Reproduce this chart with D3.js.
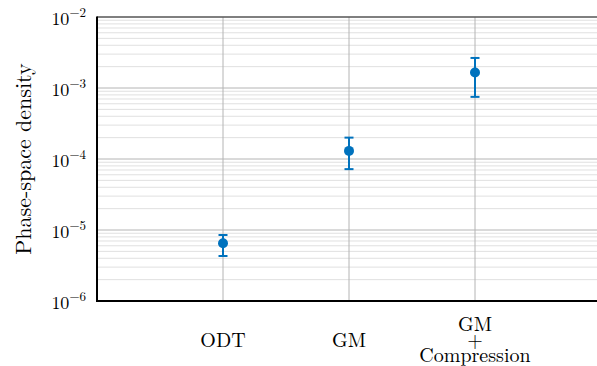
<!DOCTYPE html>
<html>
<head>
<meta charset="utf-8">
<script src="https://cdn.jsdelivr.net/npm/d3@7"></script>
<style>
  body { margin: 0; background: #fff; }
</style>
</head>
<body>
<svg id="chart" width="597" height="366" style="font-family: 'Latin Modern Roman', 'Liberation Serif', serif;"></svg>
<script>
// data
var categories = ["ODT", "GM", "GM\n+\nCompression"];
var density = [6.5e-6, 1.3e-4, 1.65e-3];
var errLow = [4.3e-6, 7.2e-5, 7.5e-4];
var errHigh = [8.5e-6, 2.0e-4, 2.65e-3];
var yTicks = [1e-6, 1e-5, 1e-4, 1e-3, 1e-2];

var svg = d3.select("#chart");
var mLeft = 97, mTop = 17, mBottom = 301, mRight = 601;
var font = "'Latin Modern Roman', 'Liberation Serif', serif";

var x = d3.scaleLinear().domain([0, 4]).range([mLeft, mRight]);
var y = d3.scaleLog().domain([1e-6, 1e-2]).range([mBottom, mTop]);

// minor grid
var minor = [];
yTicks.slice(0, -1).forEach(function(d){
    for (var k = 2; k <= 9; k++) minor.push(d * k);
});
svg.append("g").selectAll("line").data(minor).join("line")
    .attr("x1", mLeft).attr("x2", mRight)
    .attr("y1", function(d){ return y(d); })
    .attr("y2", function(d){ return y(d); })
    .attr("stroke", "#e0e0e0").attr("stroke-width", 1);

// major grid
svg.append("g").selectAll("line").data(yTicks).join("line")
    .attr("x1", mLeft).attr("x2", mRight)
    .attr("y1", function(d){ return y(d); })
    .attr("y2", function(d){ return y(d); })
    .attr("stroke", "#b4b4b4").attr("stroke-width", 1);

svg.append("g").selectAll("line").data(categories).join("line")
    .attr("x1", function(d, i){ return x(i + 1); })
    .attr("x2", function(d, i){ return x(i + 1); })
    .attr("y1", mTop).attr("y2", mBottom)
    .attr("stroke", "#b4b4b4").attr("stroke-width", 1);

// box
svg.append("line").attr("x1", mLeft).attr("x2", mRight)
    .attr("y1", mTop).attr("y2", mTop)
    .attr("stroke", "#262626").attr("stroke-width", 1.2);
svg.append("line").attr("x1", mLeft).attr("x2", mLeft)
    .attr("y1", mTop - 0.5).attr("y2", mBottom + 1)
    .attr("stroke", "#000").attr("stroke-width", 2);
svg.append("line").attr("x1", mLeft - 1).attr("x2", mRight)
    .attr("y1", mBottom).attr("y2", mBottom)
    .attr("stroke", "#000").attr("stroke-width", 2);

// y tick labels
var yl = svg.append("g").selectAll("text").data(yTicks).join("text")
    .attr("x", 86)
    .attr("y", function(d){ return y(d) + 8; })
    .attr("text-anchor", "end")
    .style("font-family", font)
    .style("font-size", "18px");
yl.append("tspan").text("10");
yl.append("tspan").attr("dy", -8).style("font-size", "13px")
    .text(function(d){ return "\u2212" + Math.round(-Math.log10(d)); });

// x labels
categories.forEach(function(c, i){
    var lines = c.split("\n");
    var t = svg.append("text")
        .attr("x", x(i + 1))
        .attr("text-anchor", "middle")
        .style("font-family", font)
        .style("font-size", "20px");
    var y0 = 346.5 - (lines.length - 1) / 2 * 15.5;
    lines.forEach(function(s, j){
        t.append("tspan").attr("x", x(i + 1)).attr("y", y0 + j * 15.5).text(s);
    });
});

// y axis title
svg.append("text")
    .attr("transform", "translate(31," + ((mTop + mBottom) / 2) + ") rotate(-90)")
    .attr("text-anchor", "middle")
    .style("font-family", font)
    .style("font-size", "22px")
    .text("Phase-space density");

// error bars and markers
var blue = "#0072bd";
var eb = svg.append("g").attr("stroke", blue).attr("stroke-width", 2);
eb.selectAll("line.v").data(density).join("line").attr("class", "v")
    .attr("x1", function(d, i){ return x(i + 1); })
    .attr("x2", function(d, i){ return x(i + 1); })
    .attr("y1", function(d, i){ return y(errLow[i]); })
    .attr("y2", function(d, i){ return y(errHigh[i]); });
eb.selectAll("line.lo").data(errLow).join("line").attr("class", "lo")
    .attr("x1", function(d, i){ return x(i + 1) - 4.5; })
    .attr("x2", function(d, i){ return x(i + 1) + 4.5; })
    .attr("y1", function(d){ return y(d); })
    .attr("y2", function(d){ return y(d); });
eb.selectAll("line.hi").data(errHigh).join("line").attr("class", "hi")
    .attr("x1", function(d, i){ return x(i + 1) - 4.5; })
    .attr("x2", function(d, i){ return x(i + 1) + 4.5; })
    .attr("y1", function(d){ return y(d); })
    .attr("y2", function(d){ return y(d); });

svg.append("g").selectAll("circle").data(density).join("circle")
    .attr("cx", function(d, i){ return x(i + 1); })
    .attr("cy", function(d){ return y(d); })
    .attr("r", 5)
    .attr("fill", blue);
</script>
</body>
</html>
